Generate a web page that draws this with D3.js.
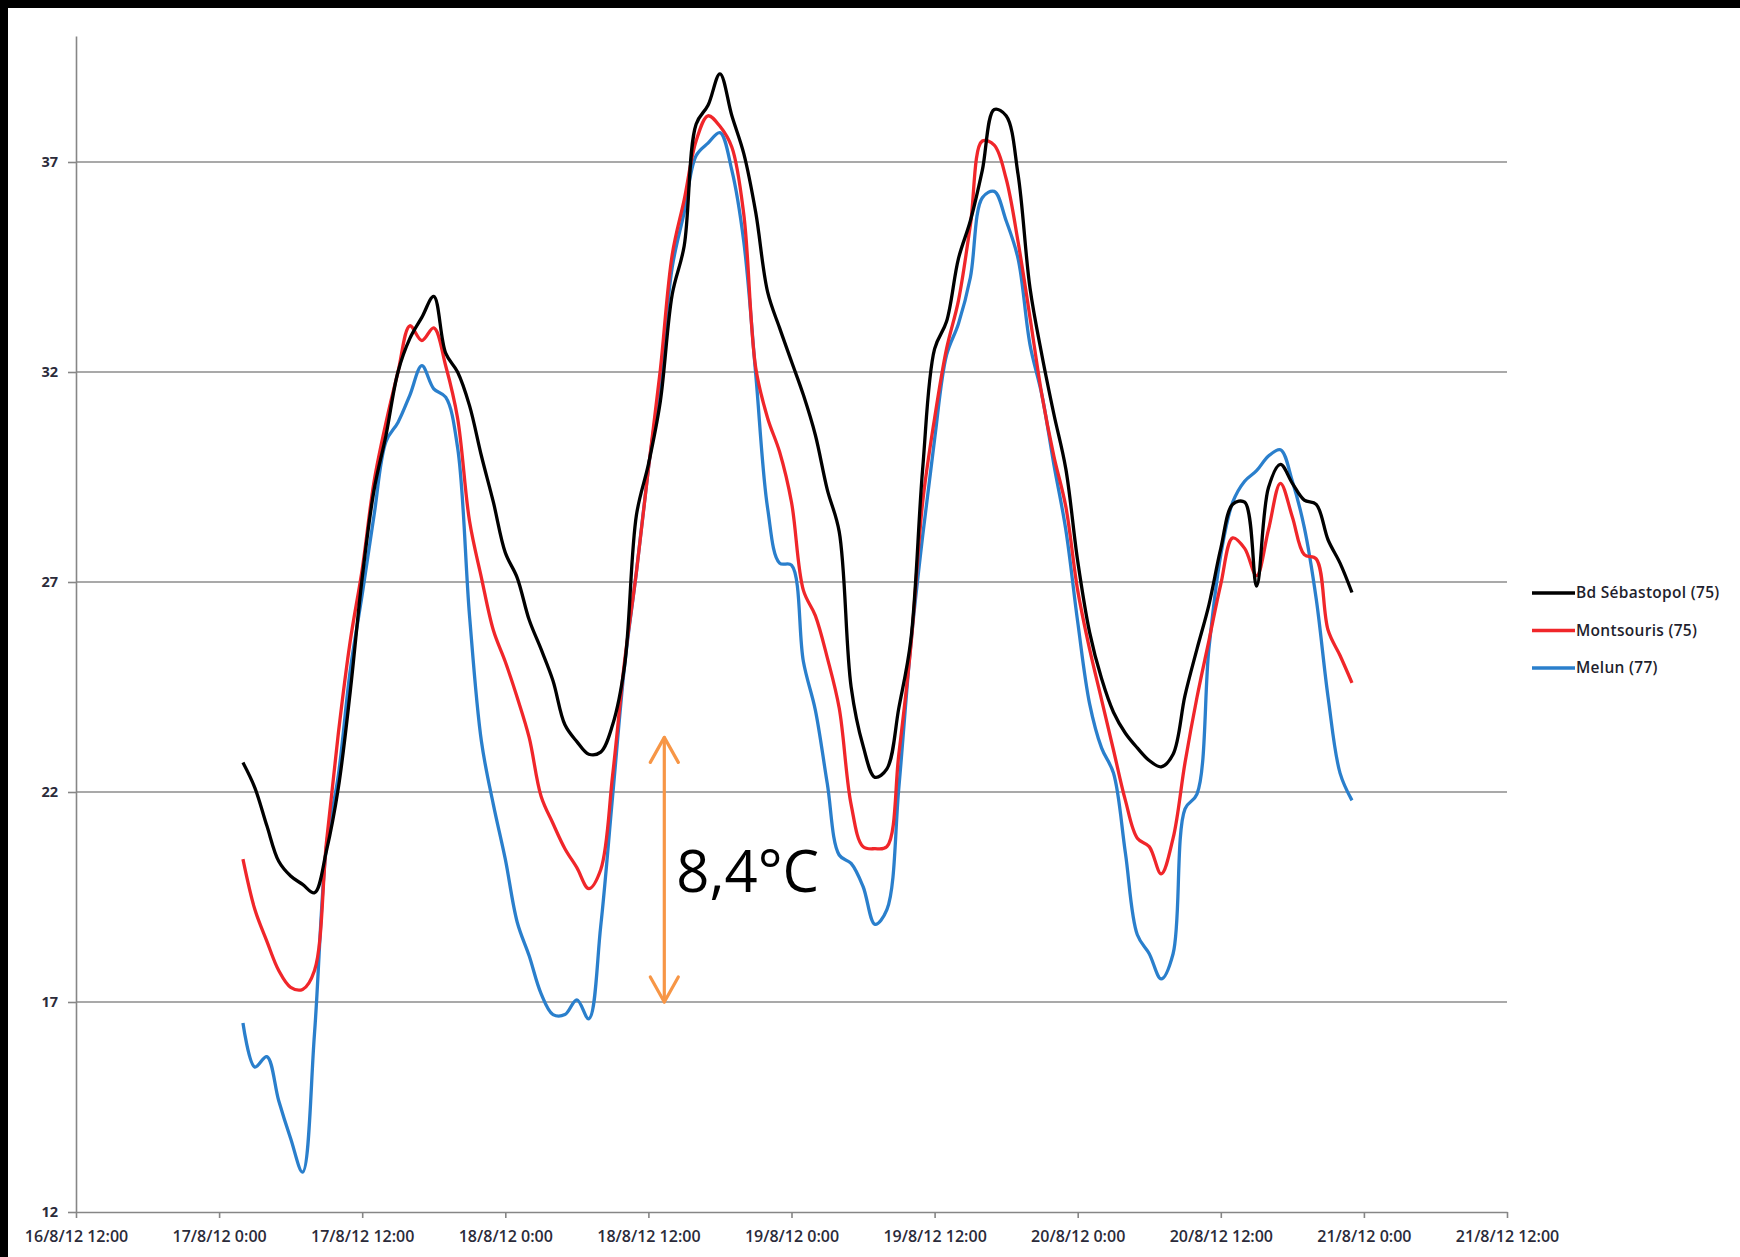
<!DOCTYPE html>
<html>
<head>
<meta charset="utf-8">
<script src="https://cdn.jsdelivr.net/npm/d3@7"></script>
<style>
  body { margin: 0; background: #fff; }
  svg { display: block; }
  .tick text { font-family: "Open Sans", sans-serif; fill: #2b2b3a; }
</style>
</head>
<body>
<svg width="1740" height="1257"></svg>
<script>
// hourly readings, 17/8/12 2:00 -> 20/8/12 23:00
const start = new Date(2012, 7, 17, 2);
const times = d3.timeHour.range(start, new Date(2012, 7, 20, 24));

const sebastopol = [
  22.7, 22.1, 21.2, 20.35, 20.0, 19.8, 19.6, 20.6, 22.1, 24.4,
  27.1, 29.2, 30.5, 32.0, 32.8, 33.3, 33.8, 32.45, 32.0, 31.2,
  30.0, 28.9, 27.7, 27.1, 26.1, 25.4, 24.65, 23.6, 23.2, 22.9,
  22.95, 23.6, 25.0, 28.6, 29.8, 31.3, 33.85, 35.0, 37.9, 38.35,
  39.1, 38.1, 37.2, 35.8, 33.9, 33.05, 32.25, 31.45, 30.5, 29.2,
  28.2, 24.5, 23.1, 22.35, 22.55, 24.0, 25.6, 29.7, 32.55, 33.2,
  34.7, 35.6, 36.8, 38.25, 38.1, 36.7, 34.0, 32.4, 31.0, 29.7,
  27.5, 25.8, 24.7, 23.9, 23.4, 23.05, 22.75, 22.6, 22.9, 24.3,
  25.4, 26.45, 27.8, 28.85, 28.9, 26.9, 29.25, 29.8, 29.35, 28.95,
  28.85, 28.0, 27.45, 26.75
];

const montsouris = [
  20.4, 19.2, 18.45, 17.75, 17.35, 17.3, 17.75, 20.8, 23.4, 25.6,
  27.3, 29.4, 30.8, 32.0, 33.1, 32.75, 33.05, 32.15, 30.9, 28.45,
  27.1, 25.85, 25.1, 24.25, 23.3, 21.9, 21.25, 20.65, 20.2, 19.7,
  20.15, 22.4, 25.1, 27.25, 29.7, 32.05, 34.8, 36.1, 37.5, 38.1,
  37.85, 37.35, 35.75, 32.1, 30.9, 30.1, 28.9, 26.8, 26.2, 25.2,
  24.0, 21.7, 20.7, 20.65, 20.7, 22.9, 25.45, 28.9, 30.9, 32.55,
  33.7, 35.5, 37.5, 37.4, 36.6, 35.1, 33.3, 31.45, 30.0, 28.8,
  26.8, 25.4, 24.2, 23.0, 21.8, 20.9, 20.7, 20.05, 20.9, 22.7,
  24.25, 25.6, 26.95, 28.05, 27.8, 27.15, 28.25, 29.35, 28.55, 27.65,
  27.55, 25.85, 25.25, 24.6
];

const melun = [
  16.5, 15.45, 15.7, 14.65, 13.75, 12.95, 16.25, 20.7, 22.4, 24.9,
  26.7, 28.6, 30.35, 30.8, 31.45, 32.15, 31.6, 31.4, 30.2, 26.2,
  23.2, 21.7, 20.4, 18.9, 18.1, 17.2, 16.7, 16.7, 17.05, 16.6,
  18.8, 21.9, 25.0, 27.25, 29.7, 31.8, 34.5, 35.8, 37.15, 37.45,
  37.7, 36.8, 35.1, 31.95, 28.75, 27.45, 27.4, 25.1, 23.95, 22.2,
  20.5, 20.3, 19.75, 18.85, 19.2, 22.1, 25.5, 28.1, 30.4, 32.4,
  33.15, 34.25, 36.15, 36.3, 35.6, 34.7, 32.65, 31.45, 29.8, 28.25,
  26.05, 24.1, 23.05, 22.45, 20.55, 18.6, 18.15, 17.55, 18.15, 21.6,
  21.95, 25.4, 27.65, 28.9, 29.4, 29.65, 30.0, 30.15, 29.4, 28.3,
  26.6, 24.25, 22.45, 21.8
];

const seriesNames = ["Bd Sébastopol (75)", "Montsouris (75)", "Melun (77)"];
const seriesColors = ["#000000", "#f0262a", "#2a7fcc"];
const yTicks = [12, 17, 22, 27, 32, 37];

// annotation: 8,4°C arrow
const arrowTime = new Date(2012, 7, 18, 13, 20);
const arrowFrom = 17;
const arrowTo = 23.3;
const arrowLabel = "8,4°C";

const svg = d3.select("svg");
svg.append("rect").attr("width", 1740).attr("height", 1257).attr("fill", "#fff");

const x = d3.scaleTime()
  .domain([new Date(2012, 7, 16, 12), new Date(2012, 7, 21, 12)])
  .range([76, 1507]);
const y = d3.scaleLinear().domain([12, 40]).range([1212, 36]);

// gridlines
svg.append("g")
  .selectAll("line")
  .data(yTicks.slice(1))
  .join("line")
  .attr("x1", x.range()[0])
  .attr("x2", x.range()[1])
  .attr("y1", d => y(d))
  .attr("y2", d => y(d))
  .attr("stroke", "#8c8c8c")
  .attr("stroke-width", 1.6);

// y axis
const yAxis = svg.append("g")
  .attr("transform", "translate(76,0)")
  .call(d3.axisLeft(y).tickValues(yTicks).tickSize(8).tickPadding(10).tickSizeOuter(0));
yAxis.selectAll("path, line").attr("stroke", "#868686").attr("stroke-width", 1.6);
yAxis.selectAll("text").attr("font-size", 14.5).attr("font-weight", 700);

// x axis
const xTicks = d3.timeHour.every(12).range(x.domain()[0], d3.timeHour.offset(x.domain()[1], 1));
const fmt = d => `${d.getDate()}/${d.getMonth() + 1}/12 ${d.getHours()}:00`;
const xAxis = svg.append("g")
  .attr("transform", "translate(0,1212)")
  .call(d3.axisBottom(x).tickValues(xTicks).tickFormat(fmt).tickSize(6).tickPadding(13).tickSizeOuter(0));
xAxis.selectAll("path, line").attr("stroke", "#868686").attr("stroke-width", 1.6);
xAxis.selectAll("text").attr("font-size", 16).attr("font-weight", 600);

// series
const line = d3.line()
  .x((d, i) => x(times[i]))
  .y(d => y(d))
  .curve(d3.curveCatmullRom.alpha(0.5));

const allSeries = [sebastopol, montsouris, melun];
// draw blue first, black on top
[2, 1, 0].forEach(k => {
  svg.append("path")
    .datum(allSeries[k])
    .attr("fill", "none")
    .attr("stroke", seriesColors[k])
    .attr("stroke-width", 3.3)
    .attr("stroke-linejoin", "round")
    .attr("d", line);
});

// annotation arrow
const ax = x(arrowTime);
const orange = "#f79646";
const ann = svg.append("g").attr("stroke", orange).attr("stroke-width", 3.2).attr("fill", "none")
  .attr("stroke-linecap", "round").attr("stroke-linejoin", "round");
ann.append("line").attr("x1", ax).attr("x2", ax).attr("y1", y(arrowTo)).attr("y2", y(arrowFrom));
ann.append("path").attr("d", `M${ax - 14},${y(arrowTo) + 25}L${ax},${y(arrowTo)}L${ax + 14},${y(arrowTo) + 25}`);
ann.append("path").attr("d", `M${ax - 14},${y(arrowFrom) - 25}L${ax},${y(arrowFrom)}L${ax + 14},${y(arrowFrom) - 25}`);

svg.append("text")
  .attr("x", ax + 12)
  .attr("y", 892)
  .attr("font-family", "Open Sans, sans-serif")
  .attr("font-size", 58)
  .attr("fill", "#000")
  .text(arrowLabel);

// legend
const legend = svg.append("g").attr("transform", "translate(1532,593)");
seriesNames.forEach((name, k) => {
  const g = legend.append("g").attr("transform", `translate(0,${k * 37.5})`);
  g.append("line").attr("x1", 0).attr("x2", 43).attr("stroke", seriesColors[k]).attr("stroke-width", 3.3);
  g.append("text")
    .attr("x", 44)
    .attr("dy", "0.35em")
    .attr("font-family", "Open Sans, sans-serif")
    .attr("font-size", 15.5)
    .attr("font-weight", 600)
    .attr("letter-spacing", 0.3)
    .attr("fill", "#1f1f2e")
    .text(name);
});

// black frame on top/left edges
svg.append("rect").attr("x", 0).attr("y", 0).attr("width", 1740).attr("height", 8).attr("fill", "#000");
svg.append("rect").attr("x", 0).attr("y", 0).attr("width", 8).attr("height", 1257).attr("fill", "#000");
</script>
</body>
</html>
